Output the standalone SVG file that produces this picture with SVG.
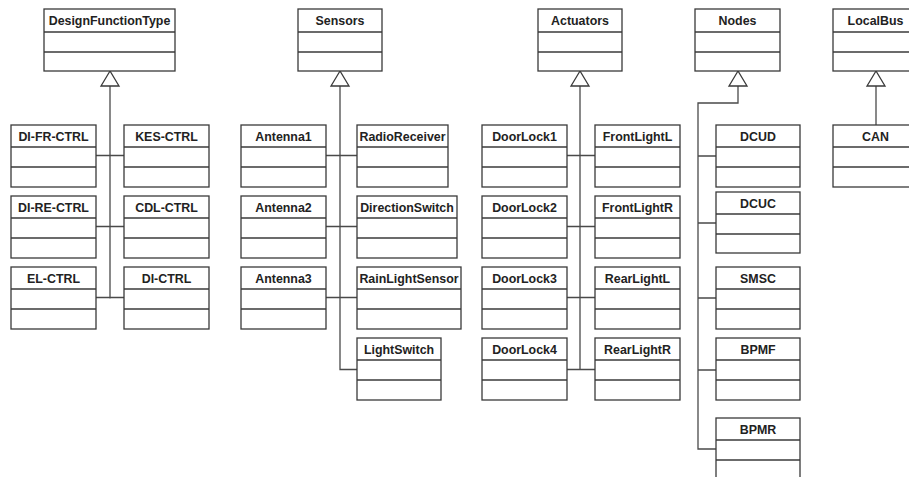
<svg xmlns="http://www.w3.org/2000/svg" width="909" height="477" viewBox="0 0 909 477">
  <defs>
    <style>
      .cls rect { fill: #ffffff; stroke: #3a3a3a; stroke-width: 1.3; }
      .cls line { stroke: #3a3a3a; stroke-width: 1.3; }
      .cls text { font-family: "Liberation Sans", Arial, sans-serif; font-weight: bold; font-size: 12.4px; fill: #222222; text-anchor: middle; }
      .wire { fill: none; stroke: #4a4a4a; stroke-width: 1.3; }
      .gen { fill: #ffffff; stroke: #3a3a3a; stroke-width: 1.3; }
    </style>
  </defs>
  <rect width="909" height="477" fill="#ffffff"/>

  <!-- connectors: generalisation trees -->
  <g id="connectors">
    <!-- DesignFunctionType -->
    <path class="wire" d="M110 86 V298.5 M96 155.5 H124 M96 226.5 H124 M96 297.5 H124"/>
    <polygon class="gen" points="110,71 101,86 119,86"/>
    <!-- Sensors -->
    <path class="wire" d="M340 86 V369.5 H357 M326 155.5 H357 M326 226.5 H357 M326 297.5 H357"/>
    <polygon class="gen" points="340,71 331,86 349,86"/>
    <!-- Actuators -->
    <path class="wire" d="M580 86 V369.5 M567 155.5 H595 M567 226.5 H595 M567 297.5 H595 M567 369.5 H595"/>
    <polygon class="gen" points="580,71 571,86 589,86"/>
    <!-- Nodes -->
    <path class="wire" d="M738 86 V103 H698 V449 H716 M698 156 H716 M698 223 H716 M698 298 H716 M698 370 H716"/>
    <polygon class="gen" points="738,71 729,86 747,86"/>
    <!-- LocalBus -->
    <path class="wire" d="M876 86 V125"/>
    <polygon class="gen" points="876,71 867,86 885,86"/>
  </g>

  <!-- parent classes -->
  <g id="DesignFunctionType" class="cls"><rect x="44" y="9" width="131" height="62"/><line x1="44" y1="32" x2="175" y2="32"/><line x1="44" y1="52" x2="175" y2="52"/><text x="109.5" y="24.5">DesignFunctionType</text></g>
  <g id="Sensors" class="cls"><rect x="298" y="9" width="84" height="62"/><line x1="298" y1="32" x2="382" y2="32"/><line x1="298" y1="52" x2="382" y2="52"/><text x="340" y="24.5">Sensors</text></g>
  <g id="Actuators" class="cls"><rect x="538" y="9" width="84" height="62"/><line x1="538" y1="32" x2="622" y2="32"/><line x1="538" y1="52" x2="622" y2="52"/><text x="580" y="24.5">Actuators</text></g>
  <g id="Nodes" class="cls"><rect x="695" y="9" width="85" height="62"/><line x1="695" y1="32" x2="780" y2="32"/><line x1="695" y1="52" x2="780" y2="52"/><text x="737.5" y="24.5">Nodes</text></g>
  <g id="LocalBus" class="cls"><rect x="833" y="9" width="86" height="62"/><line x1="833" y1="32" x2="919" y2="32"/><line x1="833" y1="52" x2="919" y2="52"/><text x="875.5" y="24.5">LocalBus</text></g>

  <!-- DesignFunctionType children -->
  <g id="DI-FR-CTRL" class="cls"><rect x="11" y="125" width="85" height="62"/><line x1="11" y1="147" x2="96" y2="147"/><line x1="11" y1="167" x2="96" y2="167"/><text x="53.5" y="140.5">DI-FR-CTRL</text></g>
  <g id="KES-CTRL" class="cls"><rect x="124" y="125" width="85" height="62"/><line x1="124" y1="147" x2="209" y2="147"/><line x1="124" y1="167" x2="209" y2="167"/><text x="166.5" y="140.5">KES-CTRL</text></g>
  <g id="DI-RE-CTRL" class="cls"><rect x="11" y="196" width="85" height="62"/><line x1="11" y1="218" x2="96" y2="218"/><line x1="11" y1="238" x2="96" y2="238"/><text x="53.5" y="211.5">DI-RE-CTRL</text></g>
  <g id="CDL-CTRL" class="cls"><rect x="124" y="196" width="85" height="62"/><line x1="124" y1="218" x2="209" y2="218"/><line x1="124" y1="238" x2="209" y2="238"/><text x="166.5" y="211.5">CDL-CTRL</text></g>
  <g id="EL-CTRL" class="cls"><rect x="11" y="267" width="85" height="62"/><line x1="11" y1="289" x2="96" y2="289"/><line x1="11" y1="309" x2="96" y2="309"/><text x="53.5" y="282.5">EL-CTRL</text></g>
  <g id="DI-CTRL" class="cls"><rect x="124" y="267" width="85" height="62"/><line x1="124" y1="289" x2="209" y2="289"/><line x1="124" y1="309" x2="209" y2="309"/><text x="166.5" y="282.5">DI-CTRL</text></g>

  <!-- Sensors children -->
  <g id="Antenna1" class="cls"><rect x="241" y="125" width="85" height="62"/><line x1="241" y1="147" x2="326" y2="147"/><line x1="241" y1="167" x2="326" y2="167"/><text x="283.5" y="140.5">Antenna1</text></g>
  <g id="RadioReceiver" class="cls"><rect x="357" y="125" width="91" height="62"/><line x1="357" y1="147" x2="448" y2="147"/><line x1="357" y1="167" x2="448" y2="167"/><text x="402.5" y="140.5">RadioReceiver</text></g>
  <g id="Antenna2" class="cls"><rect x="241" y="196" width="85" height="62"/><line x1="241" y1="218" x2="326" y2="218"/><line x1="241" y1="238" x2="326" y2="238"/><text x="283.5" y="211.5">Antenna2</text></g>
  <g id="DirectionSwitch" class="cls"><rect x="357" y="196" width="100" height="62"/><line x1="357" y1="218" x2="457" y2="218"/><line x1="357" y1="238" x2="457" y2="238"/><text x="407" y="211.5">DirectionSwitch</text></g>
  <g id="Antenna3" class="cls"><rect x="241" y="267" width="85" height="62"/><line x1="241" y1="289" x2="326" y2="289"/><line x1="241" y1="309" x2="326" y2="309"/><text x="283.5" y="282.5">Antenna3</text></g>
  <g id="RainLightSensor" class="cls"><rect x="357" y="267" width="104" height="62"/><line x1="357" y1="289" x2="461" y2="289"/><line x1="357" y1="309" x2="461" y2="309"/><text x="409" y="282.5">RainLightSensor</text></g>
  <g id="LightSwitch" class="cls"><rect x="357" y="338" width="84" height="62"/><line x1="357" y1="360" x2="441" y2="360"/><line x1="357" y1="380" x2="441" y2="380"/><text x="399" y="353.5">LightSwitch</text></g>

  <!-- Actuators children -->
  <g id="DoorLock1" class="cls"><rect x="482" y="125" width="85" height="62"/><line x1="482" y1="147" x2="567" y2="147"/><line x1="482" y1="167" x2="567" y2="167"/><text x="524.5" y="140.5">DoorLock1</text></g>
  <g id="FrontLightL" class="cls"><rect x="595" y="125" width="85" height="62"/><line x1="595" y1="147" x2="680" y2="147"/><line x1="595" y1="167" x2="680" y2="167"/><text x="637.5" y="140.5">FrontLightL</text></g>
  <g id="DoorLock2" class="cls"><rect x="482" y="196" width="85" height="62"/><line x1="482" y1="218" x2="567" y2="218"/><line x1="482" y1="238" x2="567" y2="238"/><text x="524.5" y="211.5">DoorLock2</text></g>
  <g id="FrontLightR" class="cls"><rect x="595" y="196" width="85" height="62"/><line x1="595" y1="218" x2="680" y2="218"/><line x1="595" y1="238" x2="680" y2="238"/><text x="637.5" y="211.5">FrontLightR</text></g>
  <g id="DoorLock3" class="cls"><rect x="482" y="267" width="85" height="62"/><line x1="482" y1="289" x2="567" y2="289"/><line x1="482" y1="309" x2="567" y2="309"/><text x="524.5" y="282.5">DoorLock3</text></g>
  <g id="RearLightL" class="cls"><rect x="595" y="267" width="85" height="62"/><line x1="595" y1="289" x2="680" y2="289"/><line x1="595" y1="309" x2="680" y2="309"/><text x="637.5" y="282.5">RearLightL</text></g>
  <g id="DoorLock4" class="cls"><rect x="482" y="338" width="85" height="62"/><line x1="482" y1="360" x2="567" y2="360"/><line x1="482" y1="380" x2="567" y2="380"/><text x="524.5" y="353.5">DoorLock4</text></g>
  <g id="RearLightR" class="cls"><rect x="595" y="338" width="85" height="62"/><line x1="595" y1="360" x2="680" y2="360"/><line x1="595" y1="380" x2="680" y2="380"/><text x="637.5" y="353.5">RearLightR</text></g>

  <!-- Nodes children -->
  <g id="DCUD" class="cls"><rect x="716" y="125" width="84" height="62"/><line x1="716" y1="147" x2="800" y2="147"/><line x1="716" y1="167" x2="800" y2="167"/><text x="758" y="140.5">DCUD</text></g>
  <g id="DCUC" class="cls"><rect x="716" y="192" width="84" height="61"/><line x1="716" y1="214" x2="800" y2="214"/><line x1="716" y1="234" x2="800" y2="234"/><text x="758" y="207.5">DCUC</text></g>
  <g id="SMSC" class="cls"><rect x="716" y="267" width="84" height="62"/><line x1="716" y1="289" x2="800" y2="289"/><line x1="716" y1="309" x2="800" y2="309"/><text x="758" y="282.5">SMSC</text></g>
  <g id="BPMF" class="cls"><rect x="716" y="338" width="84" height="62"/><line x1="716" y1="360" x2="800" y2="360"/><line x1="716" y1="380" x2="800" y2="380"/><text x="758" y="353.5">BPMF</text></g>
  <g id="BPMR" class="cls"><rect x="716" y="418" width="84" height="62"/><line x1="716" y1="440" x2="800" y2="440"/><line x1="716" y1="460" x2="800" y2="460"/><text x="758" y="433.5">BPMR</text></g>

  <!-- LocalBus child -->
  <g id="CAN" class="cls"><rect x="833" y="125" width="86" height="62"/><line x1="833" y1="147" x2="919" y2="147"/><line x1="833" y1="167" x2="919" y2="167"/><text x="875.5" y="140.5">CAN</text></g>
</svg>
